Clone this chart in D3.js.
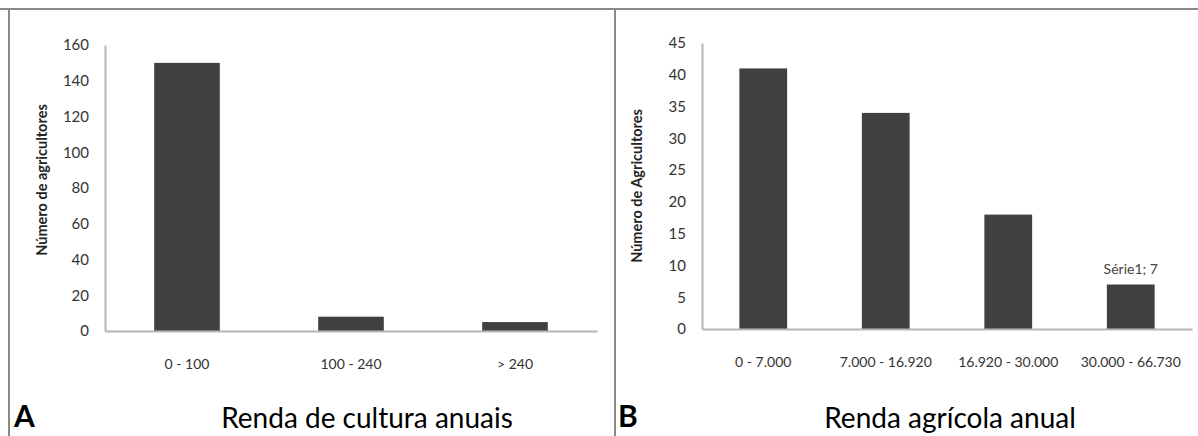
<!DOCTYPE html>
<html>
<head>
<meta charset="utf-8">
<style>
  html, body { margin: 0; padding: 0; background: #fff; }
  svg { display: block; }
</style>
</head>
<body>
<div id="chart"></div>

<script src="https://cdnjs.cloudflare.com/ajax/libs/d3/7.8.5/d3.min.js"></script>
<script>
  // Panel A: annual crop income
  const catsA = ["0 - 100", "100 - 240", "> 240"];
  const valsA = [150, 8, 5];
  const ticksA = [0, 20, 40, 60, 80, 100, 120, 140, 160];

  // Panel B: annual farm income
  const catsB = ["0 - 7.000", "7.000 - 16.920", "16.920 - 30.000", "30.000 - 66.730"];
  const valsB = [41, 34, 18, 7];
  const ticksB = [0, 5, 10, 15, 20, 25, 30, 35, 40, 45];

  const width = 1198;
  const height = 436;
  const font = "Lato, 'Open Sans', sans-serif";

  const svg = d3.select("#chart").append("svg")
    .attr("width", width)
    .attr("height", height)
    .attr("viewBox", [0, 0, width, height]);

  svg.append("rect").attr("width", width).attr("height", height).attr("fill", "#fff");

  // frame lines (top rule, left edge, divider between panels)
  const frame = svg.append("g").attr("stroke", "#8a8a8a").attr("stroke-width", 2);
  frame.append("line").attr("x1", 0).attr("x2", width).attr("y1", 9).attr("y2", 9);
  frame.append("line").attr("x1", 9).attr("x2", 9).attr("y1", 9).attr("y2", height);
  frame.append("line").attr("x1", 615).attr("x2", 615).attr("y1", 9).attr("y2", height);

  // draws one bar panel
  function panel(cfg) {
    const x = d3.scaleBand()
      .domain(cfg.cats)
      .range([cfg.left, cfg.right])
      .paddingInner(cfg.pad)
      .paddingOuter(cfg.pad / 2);

    const y = d3.scaleLinear()
      .domain([0, d3.max(cfg.ticks)])
      .range([cfg.bottom, cfg.top]);

    const g = svg.append("g");

    // y axis
    const ya = g.append("g")
      .attr("transform", `translate(${cfg.left},0)`)
      .call(d3.axisLeft(y).tickValues(cfg.ticks).tickSize(0).tickPadding(16));
    ya.select(".domain").attr("stroke", "#b5b5b5").attr("stroke-width", 2);
    ya.selectAll("text")
      .attr("font-family", font)
      .attr("font-size", 15)
      .attr("fill", "#333");

    // bars
    g.selectAll("rect.bar")
      .data(cfg.vals)
      .join("rect")
      .attr("class", "bar")
      .attr("x", (d, i) => x(cfg.cats[i]))
      .attr("width", x.bandwidth())
      .attr("y", d => y(d))
      .attr("height", d => y(0) - y(d))
      .attr("fill", "#404040");

    // x axis
    const xa = g.append("g")
      .attr("transform", `translate(0,${cfg.bottom})`)
      .call(d3.axisBottom(x).tickSize(0).tickPadding(28));
    xa.select(".domain").attr("stroke", "#b5b5b5").attr("stroke-width", 2);
    xa.selectAll("text")
      .attr("font-family", font)
      .attr("font-size", 14)
      .attr("fill", "#333");

    // y axis title
    g.append("text")
      .attr("transform", `translate(${cfg.ytx},${cfg.yty}) rotate(-90)`)
      .attr("text-anchor", "middle")
      .attr("font-family", font)
      .attr("font-weight", "bold")
      .attr("font-size", 14.5)
      .attr("fill", "#222")
      .text(cfg.ytitle);

    // panel title and letter
    g.append("text")
      .attr("x", cfg.tx)
      .attr("y", 428)
      .attr("text-anchor", "middle")
      .attr("font-family", font)
      .attr("font-size", 28)
      .attr("fill", "#000")
      .text(cfg.title);

    g.append("text")
      .attr("x", cfg.lx)
      .attr("y", 427)
      .attr("font-family", font)
      .attr("font-weight", "bold")
      .attr("font-size", 30)
      .attr("fill", "#000")
      .text(cfg.letter);

    return { x, y, g };
  }

  panel({
    cats: catsA, vals: valsA, ticks: ticksA,
    left: 105, right: 597, top: 45, bottom: 331, pad: 0.6,
    ytitle: "Número de agricultores", ytx: 47, yty: 180,
    title: "Renda de cultura anuais", tx: 367,
    letter: "A", lx: 14
  });

  const pb = panel({
    cats: catsB, vals: valsB, ticks: ticksB,
    left: 702, right: 1192, top: 43, bottom: 329, pad: 0.61,
    ytitle: "Número de Agricultores", ytx: 642, yty: 186,
    title: "Renda agrícola anual", tx: 950,
    letter: "B", lx: 618
  });

  // data label on the last bar of panel B
  const lastCat = catsB[catsB.length - 1];
  const lastVal = valsB[valsB.length - 1];
  pb.g.append("text")
    .attr("x", pb.x(lastCat) + pb.x.bandwidth() / 2)
    .attr("y", pb.y(lastVal) - 11)
    .attr("text-anchor", "middle")
    .attr("font-family", font)
    .attr("font-size", 14)
    .attr("fill", "#444")
    .text("Série1; " + lastVal);
</script>
</body>
</html>
